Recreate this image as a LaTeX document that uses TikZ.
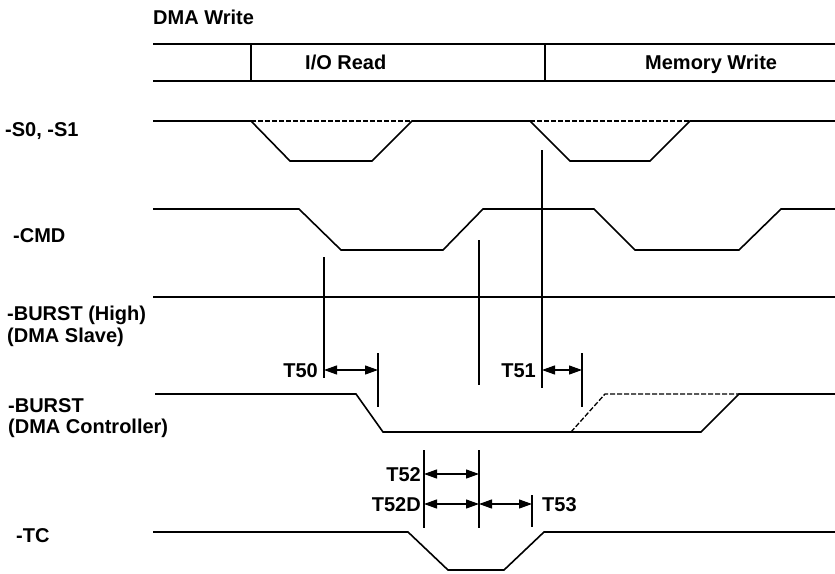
\documentclass[tikz,border=0pt]{standalone}
\usepackage{fontspec}
\setmainfont{Liberation Sans}
\usetikzlibrary{arrows.meta}
\begin{document}
\begin{tikzpicture}[x=1pt,y=-1pt,
  wave/.style={line width=1.6pt, line join=miter},
  dashwave/.style={line width=1.3pt, dash pattern=on 5pt off 2pt},
  tickline/.style={line width=1.2pt},
  dim/.style={line width=1.2pt, {Triangle[length=13pt,width=9pt]}-{Triangle[length=13pt,width=9pt]}},
  txt/.style={font=\bfseries\fontsize{20}{22}\selectfont, inner sep=0pt},
  lab/.style={txt, anchor=base west},
  labr/.style={txt, anchor=base east},
]
\useasboundingbox (0,0) rectangle (835,573);

% labels
\node[lab] (title) at (153,24) {DMA Write};
\node[lab] (ior) at (305,69) {I/O Read};
\node[lab] (mw) at (645,69) {Memory Write};
\node[lab] (s0) at (5,136) {-S0, -S1};
\node[lab] (cmd) at (13,242) {-CMD};
\node[lab] (bh1) at (7,320) {-BURST (High)};
\node[lab] (bh2) at (7,342) {(DMA Slave)};
\node[lab] (bc1) at (8,412) {-BURST};
\node[lab] (bc2) at (8,433) {(DMA Controller)};
\node[lab] (tc) at (16,542) {-TC};

% bus
\draw[wave] (153,44) -- (835,44);
\draw[wave] (153,81) -- (835,81);
\draw[wave] (251,44) -- (251,81);
\draw[wave] (545,44) -- (545,81);

% -S0,-S1
\draw[wave] (153,121) -- (251,121) -- (290,161) -- (372,161) -- (412,121) -- (530,121) -- (570,161) -- (650,161) -- (690,121) -- (835,121);
\draw[dashwave] (251,121) -- (412,121);
\draw[dashwave] (530,121) -- (690,121);

% -CMD
\draw[wave] (153,209) -- (299,209) -- (341,250) -- (443,250) -- (483,209) -- (594,209) -- (635,250) -- (739,250) -- (781,209) -- (835,209);

% -BURST (High)
\draw[wave] (153,297) -- (835,297);

% -BURST (DMA Controller)
\draw[wave] (155,394) -- (356,394) -- (383,432) -- (701,432) -- (739,394) -- (835,394);
\draw[dashwave] (571,432) -- (605,394) -- (739,394);

% -TC
\draw[wave] (153,532) -- (408,532) -- (448,570) -- (504,570) -- (544,532) -- (835,532);

% reference lines
\coordinate (v1a) at (542,150); \coordinate (v1b) at (542,388);
\coordinate (v2a) at (324,257); \coordinate (v2b) at (324,378);
\coordinate (v3a) at (479,240); \coordinate (v3b) at (479,385);
\coordinate (t50a) at (378,353); \coordinate (t50b) at (378,407);
\coordinate (t51a) at (582,353); \coordinate (t51b) at (582,407);
\coordinate (t52a) at (424,450); \coordinate (t52b) at (424,528);
\coordinate (t52c) at (479,450); \coordinate (t52d) at (479,528);
\coordinate (t53a) at (532,495); \coordinate (t53b) at (532,527);
\draw[tickline] (v1a) -- (v1b);
\draw[tickline] (v2a) -- (v2b);
\draw[tickline] (v3a) -- (v3b);
\draw[tickline] (t50a) -- (t50b);
\draw[tickline] (t51a) -- (t51b);
\draw[tickline] (t52a) -- (t52b);
\draw[tickline] (t52c) -- (t52d);
\draw[tickline] (t53a) -- (t53b);

% dimension arrows
\coordinate (a50l) at (324,370); \coordinate (a50r) at (378,370);
\coordinate (a51l) at (542,370); \coordinate (a51r) at (582,370);
\coordinate (a52l) at (424,474); \coordinate (a52r) at (479,474);
\coordinate (a52dl) at (424,504); \coordinate (a52dr) at (479,504);
\coordinate (a53r) at (532,504);
\draw[dim] (a50l) -- (a50r);
\draw[dim] (a51l) -- (a51r);
\draw[dim] (a52l) -- (a52r);
\draw[dim] (a52dl) -- (a52dr);
\draw[dim] (a52dr) -- (a53r);

\node[labr] (t50) at (318,377) {T50};
\node[labr] (t51) at (536,377) {T51};
\node[labr] (t52) at (421,481) {T52};
\node[labr] (t52d) at (421,511) {T52D};
\node[lab] (t53) at (542,511) {T53};
\end{tikzpicture}
\end{document}
